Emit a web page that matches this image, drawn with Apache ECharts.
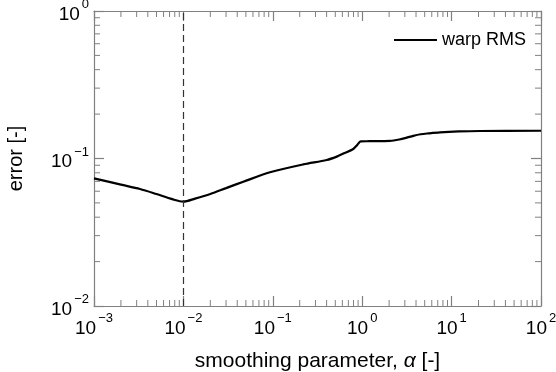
<!DOCTYPE html>
<html>
<head>
<meta charset="utf-8">
<script src="https://cdn.jsdelivr.net/npm/echarts@6/dist/echarts.min.js"></script>
<style>
  html, body { margin: 0; padding: 0; background: #fff; }
  #chart { width: 556px; height: 372px; }
</style>
</head>
<body>
<div id="chart"></div>
<script>
// smoothing parameter alpha and the warp RMS error
const alphaValues = [0.001, 0.002, 0.00327, 0.005, 0.0075, 0.01, 0.0135, 0.02, 0.03, 0.0468, 0.0931,
  0.219, 0.401, 0.52, 0.615, 0.795, 0.88, 0.962, 1.2, 2.05, 2.6, 3.1, 3.73, 4.5, 5.5, 7.41, 12, 20.8, 100];
const errorValues = [0.0734, 0.0665, 0.0621, 0.0574, 0.053, 0.051, 0.0535, 0.0575, 0.063, 0.0696, 0.0806,
  0.0912, 0.0977, 0.103, 0.108, 0.116, 0.1236, 0.1306, 0.131, 0.1317, 0.1345, 0.138, 0.1425, 0.146, 0.148,
  0.1504, 0.1525, 0.1536, 0.1542];

const xRange = [0.001, 100];
const yRange = [0.01, 1];
const optimumAlpha = 0.01;
const seriesName = 'warp RMS';

// minor ticks 2..9 within each decade
function minorTicks(lo, hi) {
  const out = [];
  for (let d = lo; d < hi; d *= 10) {
    for (let k = 2; k <= 9; k++) out.push(+(d * k).toPrecision(6));
  }
  return out;
}
const xMinor = minorTicks(xRange[0], xRange[1]);
const yMinor = minorTicks(yRange[0], yRange[1]);

const FONT = 'Liberation Sans, Arial, sans-serif';
const GREY = '#808080';

function powLabel(v) {
  const e = Math.round(Math.log10(v));
  return '{b|10}{e|' + String(e).replace('-', '\u2212') + '}';
}
const labelRich = {
  b: { fontSize: 19, fontFamily: FONT, color: '#000', verticalAlign: 'bottom', lineHeight: 26 },
  e: { fontSize: 13, fontFamily: FONT, color: '#000', verticalAlign: 'top', lineHeight: 13, padding: [0, 0, 0, 2] }
};

const tickData = xMinor.map(v => [v, yRange[0], 0]).concat(yMinor.map(v => [xRange[0], v, 1]));

const chart = echarts.init(document.getElementById('chart'));

const baseAxis = {
  type: 'log',
  logBase: 10,
  axisLine: { show: true, lineStyle: { color: GREY, width: 1.2 } },
  axisTick: { show: true, inside: true, length: 10, lineStyle: { color: GREY, width: 1.2 } },
  splitLine: { show: false },
  minorTick: { show: false },
  minorSplitLine: { show: false }
};

chart.setOption({
  animation: false,
  grid: { left: 94, right: 15, top: 11, bottom: 66, outerBoundsMode: 'none' },
  legend: {
    data: [{ name: seriesName, icon: 'rect' }],
    right: 25,
    top: 26,
    itemWidth: 43,
    itemHeight: 2,
    itemGap: 8,
    textStyle: { fontSize: 18, fontFamily: FONT, color: '#000' }
  },
  xAxis: [
    Object.assign({}, baseAxis, {
      min: xRange[0], max: xRange[1],
      position: 'bottom',
      axisLabel: { formatter: powLabel, rich: labelRich, margin: 6 },
      name: 'smoothing parameter, {i|\u03b1} [-]',
      nameLocation: 'middle',
      nameGap: 45,
      nameTextStyle: {
        fontSize: 21, fontFamily: FONT, color: '#000',
        rich: { i: { fontSize: 21, fontFamily: FONT, fontStyle: 'italic', color: '#000' } }
      }
    }),
    Object.assign({}, baseAxis, {
      min: xRange[0], max: xRange[1],
      position: 'top',
      axisLabel: { show: false }
    })
  ],
  yAxis: [
    Object.assign({}, baseAxis, {
      min: yRange[0], max: yRange[1],
      position: 'left',
      axisLabel: { formatter: powLabel, rich: labelRich, margin: 5 },
      name: 'error [-]',
      nameLocation: 'middle',
      nameGap: 68,
      nameRotate: 90,
      nameTextStyle: { fontSize: 20, fontFamily: FONT, color: '#000' }
    }),
    Object.assign({}, baseAxis, {
      min: yRange[0], max: yRange[1],
      position: 'right',
      axisLabel: { show: false }
    })
  ],
  series: [
    {
      name: seriesName,
      type: 'line',
      data: alphaValues.map((a, i) => [a, errorValues[i]]),
      symbol: 'none',
      smooth: 0.3,
      lineStyle: { color: '#000', width: 2.2 },
      itemStyle: { color: '#000' },
      markLine: {
        silent: true,
        symbol: 'none',
        label: { show: false },
        lineStyle: { color: '#333', width: 1.2, type: [7, 4] },
        data: [{ xAxis: optimumAlpha }]
      },
      z: 3
    },
    {
      type: 'custom',
      silent: true,
      clip: false,
      data: tickData,
      renderItem: function (params, api) {
        const v0 = api.value(0), v1 = api.value(1), kind = api.value(2);
        const len = 6;
        const style = { stroke: GREY, lineWidth: 1 };
        let a, b;
        if (kind === 0) {
          a = api.coord([v0, yRange[0]]);
          b = api.coord([v0, yRange[1]]);
          return { type: 'group', children: [
            { type: 'line', shape: { x1: a[0], y1: a[1], x2: a[0], y2: a[1] - len }, style: style },
            { type: 'line', shape: { x1: b[0], y1: b[1], x2: b[0], y2: b[1] + len }, style: style }
          ] };
        }
        a = api.coord([xRange[0], v1]);
        b = api.coord([xRange[1], v1]);
        return { type: 'group', children: [
          { type: 'line', shape: { x1: a[0], y1: a[1], x2: a[0] + len, y2: a[1] }, style: style },
          { type: 'line', shape: { x1: b[0], y1: b[1], x2: b[0] - len, y2: b[1] }, style: style }
        ] };
      },
      z: 1
    }
  ]
});
</script>
</body>
</html>
